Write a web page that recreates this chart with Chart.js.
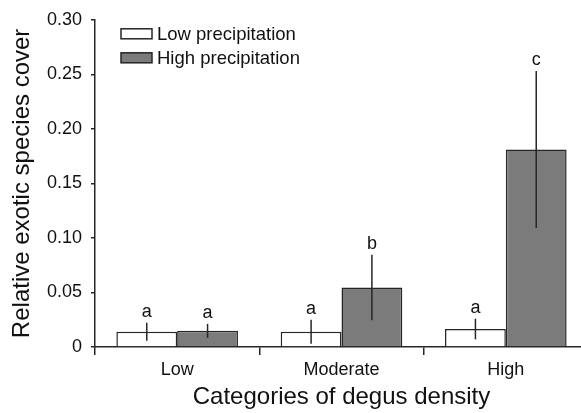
<!DOCTYPE html>
<html>
<head>
<meta charset="utf-8">
<script src="https://cdn.jsdelivr.net/npm/chart.js@4"></script>
<style>
  html, body { margin: 0; padding: 0; background: #fff; overflow: hidden; }
  #wrap { width: 581px; height: 413px; overflow: hidden; }
  #box { width: 600px; height: 413px; position: relative; }
</style>
</head>
<body>
<div id="wrap"><div id="box"><canvas id="chart"></canvas></div></div>
<script>
'use strict';

const categories = ['Low', 'Moderate', 'High'];
const lowPrecip = [0.014, 0.014, 0.0165];
const highPrecip = [0.0148, 0.0545, 0.181];
const lowErr = [0.0082, 0.011, 0.0095];
const highErr = [0.0064, 0.030, 0.072];
const lowLetters = ['a', 'a', 'a'];
const highLetters = ['a', 'b', 'c'];
const yTicks = [0, 0.05, 0.10, 0.15, 0.20, 0.25, 0.30];

const FONT = '"Liberation Sans", Arial, Helvetica, sans-serif';
const INK = '#262626';

// error bars + significance letters
const errorBars = {
  id: 'errorBars',
  afterDatasetsDraw(chart) {
    const { ctx, scales: { y } } = chart;
    const errs = [lowErr, highErr];
    const letters = [lowLetters, highLetters];
    ctx.save();
    ctx.strokeStyle = INK;
    ctx.lineWidth = 1.5;
    ctx.fillStyle = '#111';
    ctx.font = '18px ' + FONT;
    ctx.textAlign = 'center';
    ctx.textBaseline = 'alphabetic';
    chart.data.datasets.forEach((ds, i) => {
      chart.getDatasetMeta(i).data.forEach((bar, j) => {
        const v = ds.data[j];
        const top = y.getPixelForValue(v + errs[i][j]);
        const bot = y.getPixelForValue(v - errs[i][j]);
        ctx.beginPath();
        ctx.moveTo(bar.x, top);
        ctx.lineTo(bar.x, bot);
        ctx.stroke();
        ctx.fillText(letters[i][j], bar.x, top - 6);
      });
    });
    ctx.restore();
  }
};

// legend drawn inside the plot area, top left
const innerLegend = {
  id: 'innerLegend',
  afterDraw(chart) {
    const { ctx, chartArea } = chart;
    ctx.save();
    ctx.font = '18.5px ' + FONT;
    ctx.textBaseline = 'middle';
    chart.data.datasets.forEach((ds, i) => {
      const x = chartArea.left + 26;
      const yc = chartArea.top + 14 + i * 24;
      ctx.fillStyle = ds.backgroundColor;
      ctx.fillRect(x, yc - 5, 31, 10);
      ctx.strokeStyle = INK;
      ctx.lineWidth = 1.5;
      ctx.strokeRect(x, yc - 5, 31, 10);
      ctx.fillStyle = '#111';
      ctx.fillText(ds.label, x + 36, yc + 1);
    });
    ctx.restore();
  }
};

new Chart(document.getElementById('chart'), {
  type: 'bar',
  data: {
    labels: categories,
    datasets: [
      {
        label: 'Low precipitation',
        data: lowPrecip,
        backgroundColor: '#ffffff',
        borderColor: INK,
        borderWidth: 1.5,
      },
      {
        label: 'High precipitation',
        data: highPrecip,
        backgroundColor: '#7b7b7b',
        borderColor: INK,
        borderWidth: 1.5,
      },
    ],
  },
  options: {
    responsive: true,
    maintainAspectRatio: false,
    animation: false,
    categoryPercentage: 0.74,
    barPercentage: 1.0,
    layout: { padding: { top: 19, right: 12, bottom: 0, left: 0 } },
    plugins: {
      legend: { display: false },
      tooltip: { enabled: false },
    },
    scales: {
      x: {
        grid: { display: true, drawOnChartArea: false, offset: true, tickLength: 8, color: INK, lineWidth: 1.5 },
        border: { color: INK, width: 1.5 },
        ticks: { color: '#111', font: { family: FONT, size: 18 }, padding: 4 },
        title: {
          display: true,
          text: 'Categories of degus density',
          color: '#111',
          font: { family: FONT, size: 24 },
          padding: { top: 0, bottom: 1 },
        },
        afterFit: s => { s.height = 66; },
      },
      y: {
        min: 0,
        max: 0.30,
        afterBuildTicks: s => { s.ticks = yTicks.map(v => ({ value: v })); },
        grid: { display: true, drawOnChartArea: false, tickLength: 4, color: INK, lineWidth: 1.5 },
        border: { color: INK, width: 1.5 },
        ticks: {
          color: '#111',
          font: { family: FONT, size: 18 },
          padding: 9,
          callback: v => v === 0 ? '0' : v.toFixed(2),
        },
        title: {
          display: true,
          text: 'Relative exotic species cover',
          color: '#111',
          font: { family: FONT, size: 24 },
          padding: { top: 8, bottom: 0 },
        },
        afterFit: s => { s.width = 95; },
      },
    },
  },
  plugins: [errorBars, innerLegend],
});
</script>
</body>
</html>
